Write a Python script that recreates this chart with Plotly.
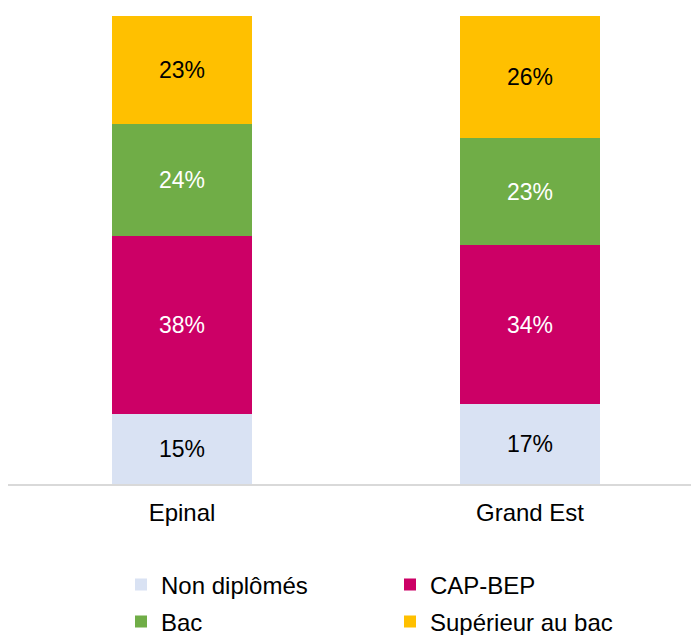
import plotly.graph_objects as go

categories = ["Epinal", "Grand Est"]
series_names = ["Non diplômés", "CAP-BEP", "Bac", "Supérieur au bac"]
non_diplomes = [15, 17]
cap_bep = [38, 34]
bac = [24, 23]
superieur = [23, 26]

values = [non_diplomes, cap_bep, bac, superieur]
colors = ["#D9E2F3", "#CC0066", "#70AD47", "#FFC000"]
text_colors = ["#000000", "#FFFFFF", "#FFFFFF", "#000000"]
legends = ["legend", "legend", "legend2", "legend2"]

FONT = "Liberation Sans, Arial, sans-serif"

fig = go.Figure()
for name, vals, col, tcol, lg in zip(series_names, values, colors, text_colors, legends):
    fig.add_trace(go.Bar(
        x=categories, y=vals, name=name,
        marker=dict(color=col, line=dict(width=0)),
        texttemplate="%{y}%", textposition="inside", insidetextanchor="middle",
        textfont=dict(color=tcol, size=23, family=FONT),
        constraintext="none",
        legend=lg, hoverinfo="skip",
    ))

W, H = 691, 635
ml, mr, mt, mb = 8, 0, 16, 151
pw = W - ml - mr
ph = H - mt - mb

def px_x(px):
    return (px - ml) / pw

def px_y(py):
    return (H - mb - py) / ph

legend_common = dict(
    orientation="h", xanchor="left", yanchor="middle",
    entrywidth=224, entrywidthmode="pixels",
    bgcolor="rgba(0,0,0,0)", borderwidth=0,
    font=dict(size=24, color="#000000", family=FONT),
    traceorder="normal", itemclick=False, itemdoubleclick=False,
)

fig.update_layout(
    width=W, height=H,
    margin=dict(l=ml, r=mr, t=mt, b=mb, autoexpand=False),
    barmode="stack", bargap=0.6,
    plot_bgcolor="white", paper_bgcolor="white",
    font=dict(family=FONT, size=23, color="#000000"),
    showlegend=True,
    legend=dict(x=px_x(121), y=px_y(585), **legend_common),
    legend2=dict(x=px_x(121), y=px_y(622), **legend_common),
    xaxis=dict(
        range=[-0.5, -0.5 + pw / 348.0],
        showline=True, linecolor="#D9D9D9", linewidth=2,
        showgrid=False, zeroline=False, ticks="",
        tickfont=dict(size=24, color="#000000", family=FONT),
        ticklabelstandoff=6,
    ),
    yaxis=dict(range=[0, 100], visible=False, showgrid=False, zeroline=False),
    uniformtext=dict(mode=False),
)

fig.write_html(
    "out.html",
    config={"displayModeBar": False, "staticPlot": True},
    post_script="document.body.style.margin='0';document.body.style.overflow='hidden';",
)
